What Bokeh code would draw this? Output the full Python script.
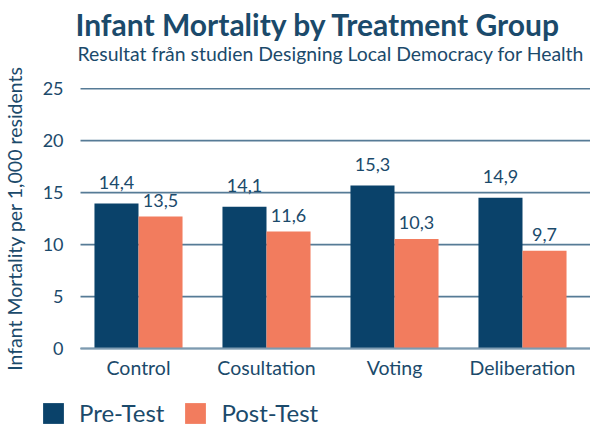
from bokeh.plotting import figure
from bokeh.models import (ColumnDataSource, Legend, LegendItem, FixedTicker, Range1d,
                          Label, LinearAxis)
from bokeh.core.properties import value
from bokeh.embed import file_html
from bokeh.resources import INLINE

# ---- data ----
categories = ["Control", "Cosultation", "Voting", "Deliberation"]
pre_values = [13.95, 13.65, 15.7, 14.5]      # bar heights as drawn
post_values = [12.7, 11.25, 10.55, 9.4]
pre_labels = ["14,4", "14,1", "15,3", "14,9"]
post_labels = ["13,5", "11,6", "10,3", "9,7"]
y_ticks = [0, 5, 10, 15, 20, 25]
series_names = ["Pre-Test", "Post-Test"]

title_text = "Infant Mortality by Treatment Group"
subtitle_text = "Resultat från studien Designing Local Democracy for Health"
y_label = "Infant Mortality per 1,000 residents"

NAVY = "#0a426a"
CORAL = "#f27c5e"
TEXT = "#1b4a6b"
FONT = "Lato"
W, H = 590, 428

# plotting-area extent (data units) and canvas mapping
X_LO, X_HI = -0.453, 3.531
PX_X = 128.0          # pixels per category
PX_Y = 10.39          # pixels per unit
X0_PX, Y0_PX = 138, 348   # canvas position of x=0 / y=0

x_range = Range1d(-X0_PX / PX_X, (W - X0_PX) / PX_X)
y_range = Range1d(-(H - Y0_PX) / PX_Y, Y0_PX / PX_Y)

xs = list(range(len(categories)))
bw = 0.344
pre_x = [x - bw / 2 for x in xs]
post_x = [x + bw / 2 for x in xs]

src_pre = ColumnDataSource(dict(x=pre_x, top=pre_values, lab=pre_labels))
src_post = ColumnDataSource(dict(x=post_x, top=post_values, lab=post_labels))

p = figure(width=W, height=H, output_backend="svg", toolbar_location=None,
           title=None, x_range=x_range, y_range=y_range,
           x_axis_location=None, y_axis_location=None, min_border=0)
p.outline_line_color = None
p.grid.visible = False

# grid lines over the plotting area
n = len(y_ticks)
p.segment(x0=[X_LO] * n, x1=[X_HI] * n, y0=y_ticks, y1=y_ticks,
          line_color="#567b96", line_width=1.7)

r_pre = p.vbar(x="x", top="top", width=bw, bottom=0, source=src_pre,
               fill_color=NAVY, line_color=None)
r_post = p.vbar(x="x", top="top", width=bw, bottom=0, source=src_post,
                fill_color=CORAL, line_color=None)

p.text(x="x", y="top", text="lab", source=src_pre, text_align="center",
       text_baseline="alphabetic", y_offset=-21, text_font=value(FONT),
       text_font_size="18px", text_color=TEXT)
p.text(x="x", y="top", text="lab", source=src_post, text_align="center",
       text_baseline="alphabetic", y_offset=-16, text_font=value(FONT),
       text_font_size="18px", text_color=TEXT)

# y axis
yaxis = LinearAxis(fixed_location=X_LO, bounds=(0, 25),
                   ticker=FixedTicker(ticks=y_ticks))
yaxis.axis_line_color = None
yaxis.major_tick_line_color = None
yaxis.major_tick_out = 0
yaxis.major_tick_in = 0
yaxis.minor_tick_line_color = None
yaxis.major_label_text_font = FONT
yaxis.major_label_text_font_size = "18px"
yaxis.major_label_text_color = TEXT
yaxis.major_label_standoff = 17
yaxis.axis_label = y_label
yaxis.axis_label_text_font = FONT
yaxis.axis_label_text_font_size = "19.5px"
yaxis.axis_label_text_font_style = "normal"
yaxis.axis_label_text_color = TEXT
yaxis.axis_label_standoff = 14
p.add_layout(yaxis, "left")

# x axis
xaxis = LinearAxis(fixed_location=0, bounds=(X_LO, X_HI),
                   ticker=FixedTicker(ticks=xs))
xaxis.major_label_overrides = {i: c for i, c in enumerate(categories)}
xaxis.axis_line_color = "#7d9ab0"
xaxis.axis_line_width = 2
xaxis.major_tick_line_color = None
xaxis.major_tick_out = 0
xaxis.major_tick_in = 0
xaxis.minor_tick_line_color = None
xaxis.major_label_text_font = FONT
xaxis.major_label_text_font_size = "19.5px"
xaxis.major_label_text_color = TEXT
xaxis.major_label_standoff = 7
p.add_layout(xaxis, "below")

# legend
legend = Legend(items=[LegendItem(label=series_names[0], renderers=[r_pre]),
                       LegendItem(label=series_names[1], renderers=[r_post])],
                orientation="horizontal", location=(40, 1),
                glyph_width=26, glyph_height=26, label_text_font=FONT,
                label_text_font_size="24px", label_text_color=TEXT,
                border_line_color=None, background_fill_alpha=0,
                spacing=18, label_standoff=13, padding=0, margin=0,
                label_height=26)
p.add_layout(legend, "center")

# titles
p.add_layout(Label(x=75, y=H - 23.5, x_units="screen", y_units="screen",
                   text=title_text, text_font=FONT, text_font_style="bold",
                   text_font_size="30px", text_color=TEXT,
                   text_baseline="alphabetic"))
p.add_layout(Label(x=77, y=H - 53, x_units="screen", y_units="screen",
                   text=subtitle_text, text_font=FONT, text_font_size="19.4px",
                   text_color=TEXT, text_baseline="alphabetic"))

open("out.html", "w").write(file_html(p, INLINE))
